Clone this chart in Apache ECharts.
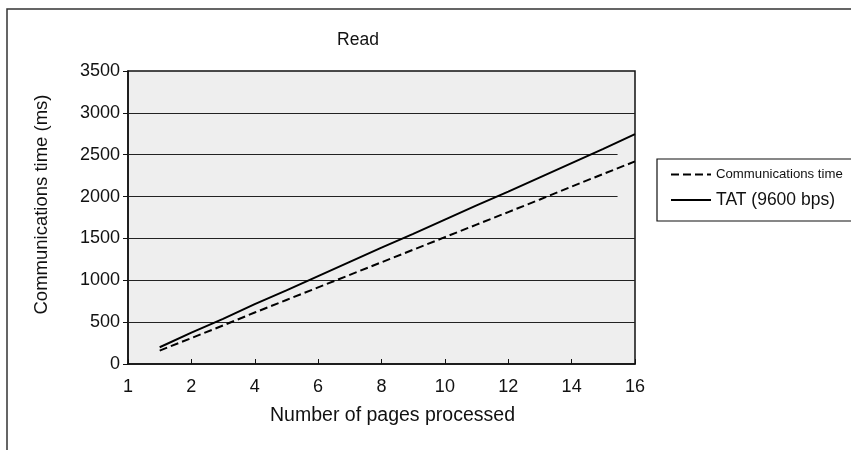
<!DOCTYPE html>
<html>
<head>
<meta charset="utf-8">
<script src="https://cdn.jsdelivr.net/npm/echarts@6/dist/echarts.min.js"></script>
<style>
html,body{margin:0;padding:0;background:#fff;}
#chart{width:851px;height:450px;}
</style>
</head>
<body>
<div id="chart"></div>
<script>
// ---- data ----
var pages = [1, 2, 3, 4, 5, 6, 7, 8, 9, 10, 11, 12, 13, 14, 15, 16];
var commTime = [160, 310, 460, 615, 765, 915, 1065, 1215, 1365, 1515, 1665, 1815, 1965, 2120, 2270, 2420];
var tatTime = [200, 375, 540, 715, 880, 1050, 1220, 1390, 1555, 1725, 1895, 2060, 2230, 2400, 2570, 2745];
var seriesNames = ['Communications time', 'TAT (9600 bps)'];
var yTicks = [0, 500, 1000, 1500, 2000, 2500, 3000, 3500];
var xTickLabels = {0: '1', 2: '2', 4: '4', 6: '6', 8: '8', 10: '10', 12: '12', 14: '14', 16: '16'};
var gridValues = [500, 1000, 1500, 2000, 2500, 3000];
var shortGridValues = [2000, 2500];
var shortGridEnd = 15.45;

function pairs(xs, ys) { return xs.map(function (x, i) { return [x, ys[i]]; }); }

var font = '"Liberation Sans", Arial, Helvetica, sans-serif';

var gridLines = gridValues.map(function (v) {
  var end = shortGridValues.indexOf(v) >= 0 ? shortGridEnd : 16;
  return [{ coord: [0, v] }, { coord: [end, v] }];
});

var chart = echarts.init(document.getElementById('chart'), null, { renderer: 'canvas' });
chart.setOption({
  animation: false,
  backgroundColor: '#ffffff',
  textStyle: { fontFamily: font },
  title: {
    text: 'Read',
    left: 353,
    top: 26,
    textAlign: 'center',
    textStyle: { fontFamily: font, fontSize: 17.5, fontWeight: 'normal', color: '#111' }
  },
  graphic: [{
    type: 'rect',
    shape: { x: 7, y: 9, width: 1000, height: 1000 },
    style: { fill: 'none', stroke: '#333', lineWidth: 1.5 },
    silent: true, z: 0
  }],
  legend: {
    orient: 'vertical',
    left: 657,
    top: 159,
    itemWidth: 40,
    itemHeight: 14,
    itemGap: 10,
    padding: [9, 20, 12, 13],
    borderColor: '#111',
    borderWidth: 1.2,
    backgroundColor: '#fff',
    data: seriesNames,
    itemStyle: { opacity: 0 },
    formatter: function (name) {
      return name === seriesNames[0] ? '{c|' + name + '}' : '{n|' + name + '}';
    },
    textStyle: {
      color: '#111',
      rich: {
        c: { fontFamily: font, fontSize: 13.2, color: '#111' },
        n: { fontFamily: font, fontSize: 17.5, color: '#111' }
      }
    }
  },
  grid: {
    left: 128, top: 71, right: 216, bottom: 86,
    show: true, backgroundColor: '#eeeeee', borderColor: '#111', borderWidth: 1.5
  },
  xAxis: {
    type: 'value', min: 0, max: 16, interval: 2,
    name: 'Number of pages processed',
    nameLocation: 'middle', nameGap: 42,
    nameTextStyle: { fontFamily: font, fontSize: 19.5, color: '#111', padding: [0, 0, 0, 22] },
    axisLine: { show: true, lineStyle: { color: '#111', width: 1.5 } },
    axisTick: { show: true, inside: true, length: 5, lineStyle: { color: '#111' } },
    axisLabel: {
      fontFamily: font, fontSize: 18, color: '#111', margin: 14,
      formatter: function (v) { return xTickLabels[v] !== undefined ? xTickLabels[v] : ''; }
    },
    splitLine: { show: false }
  },
  yAxis: {
    type: 'value', min: yTicks[0], max: yTicks[yTicks.length - 1], interval: 500,
    name: 'Communications time (ms)',
    nameLocation: 'middle', nameGap: 77,
    nameTextStyle: { fontFamily: font, fontSize: 18.5, color: '#111', padding: [0, 0, 0, 26] },
    axisLine: { show: true, lineStyle: { color: '#111', width: 1.5 } },
    axisTick: { show: true, inside: false, length: 5, lineStyle: { color: '#111' } },
    axisLabel: {
      fontFamily: font, fontSize: 18, color: '#111', margin: 8,
      formatter: function (v) { return String(v); }
    },
    splitLine: { show: false }
  },
  series: [{
    name: seriesNames[0],
    type: 'line',
    data: pairs(pages, commTime),
    symbol: 'none',
    lineStyle: { color: '#000', width: 2, type: [8, 4] },
    itemStyle: { color: '#000' },
    z: 3,
    markLine: {
      silent: true, symbol: 'none',
      label: { show: false },
      lineStyle: { color: '#222', width: 1.2, type: 'solid' },
      data: gridLines,
      z: 1
    }
  }, {
    name: seriesNames[1],
    type: 'line',
    data: pairs(pages, tatTime),
    symbol: 'none',
    lineStyle: { color: '#000', width: 2, type: 'solid' },
    itemStyle: { color: '#000' },
    z: 3
  }]
});
</script>
</body>
</html>
